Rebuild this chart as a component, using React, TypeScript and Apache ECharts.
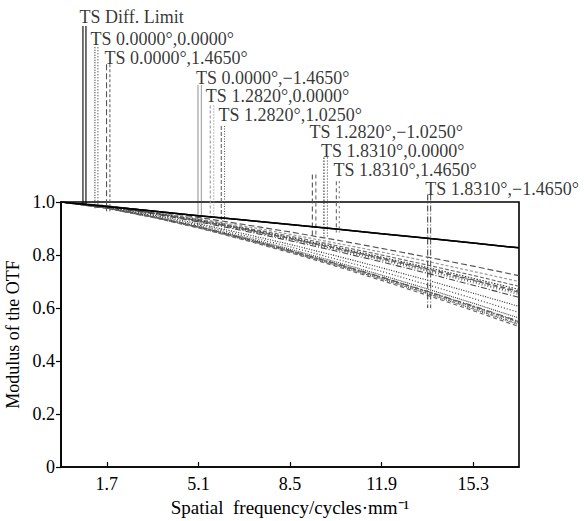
import React, { useEffect, useRef } from "react";
import * as echarts from "echarts";

// Spatial frequency sample points (cycles/mm)
const freq = [0, 1.7, 3.4, 5.1, 6.8, 8.5, 10.2, 11.9, 13.6, 15.3, 17];

const xTickValues = [1.7, 5.1, 8.5, 11.9, 15.3];

const fieldNames = [
  "TS Diff. Limit",
  "TS 0.0000°,0.0000°",
  "TS 0.0000°,1.4650°",
  "TS 0.0000°,\u22121.4650°",
  "TS 1.2820°,0.0000°",
  "TS 1.2820°,1.0250°",
  "TS 1.2820°,\u22121.0250°",
  "TS 1.8310°,0.0000°",
  "TS 1.8310°,1.4650°",
  "TS 1.8310°,\u22121.4650°",
];

// Tangential MTF per field
const mtfT = [
  [1, 0.983, 0.966, 0.948, 0.932, 0.915, 0.898, 0.88, 0.863, 0.845, 0.827],
  [1, 0.98, 0.952, 0.918, 0.88, 0.84, 0.797, 0.752, 0.705, 0.656, 0.606],
  [1, 0.986, 0.966, 0.942, 0.915, 0.887, 0.857, 0.825, 0.792, 0.758, 0.722],
  [1, 0.978, 0.946, 0.908, 0.867, 0.822, 0.774, 0.724, 0.672, 0.618, 0.562],
  [1, 0.985, 0.963, 0.937, 0.909, 0.878, 0.845, 0.811, 0.776, 0.738, 0.7],
  [1, 0.984, 0.961, 0.934, 0.903, 0.871, 0.836, 0.8, 0.762, 0.723, 0.682],
  [1, 0.983, 0.959, 0.93, 0.898, 0.863, 0.826, 0.788, 0.748, 0.706, 0.663],
  [1, 0.983, 0.959, 0.931, 0.9, 0.866, 0.83, 0.792, 0.753, 0.712, 0.67],
  [1, 0.983, 0.958, 0.929, 0.897, 0.862, 0.825, 0.786, 0.746, 0.704, 0.66],
  [1, 0.982, 0.956, 0.925, 0.891, 0.854, 0.815, 0.774, 0.731, 0.686, 0.64],
];

// Sagittal MTF per field
const mtfS = [
  [1, 0.983, 0.966, 0.948, 0.932, 0.915, 0.898, 0.88, 0.863, 0.845, 0.827],
  [1, 0.979, 0.949, 0.913, 0.873, 0.831, 0.785, 0.738, 0.688, 0.636, 0.583],
  [1, 0.977, 0.944, 0.906, 0.863, 0.816, 0.767, 0.716, 0.662, 0.606, 0.548],
  [1, 0.977, 0.943, 0.903, 0.859, 0.812, 0.762, 0.709, 0.654, 0.596, 0.537],
  [1, 0.982, 0.957, 0.927, 0.894, 0.858, 0.82, 0.78, 0.738, 0.695, 0.65],
  [1, 0.977, 0.944, 0.905, 0.862, 0.815, 0.766, 0.714, 0.66, 0.603, 0.545],
  [1, 0.976, 0.942, 0.902, 0.857, 0.809, 0.758, 0.704, 0.648, 0.59, 0.53],
  [1, 0.983, 0.958, 0.928, 0.895, 0.86, 0.822, 0.783, 0.742, 0.699, 0.655],
  [1, 0.977, 0.943, 0.904, 0.86, 0.813, 0.763, 0.711, 0.656, 0.599, 0.54],
  [1, 0.977, 0.945, 0.906, 0.863, 0.817, 0.768, 0.717, 0.663, 0.608, 0.55],
];

// Label marker lines (frequency of T and S marker, top and bottom modulus)
const markerXT = [0.815, 1.259, 1.69, 5.085, 5.54, 5.95, 9.33, 9.76, 10.22, 13.61];
const markerXS = [0.926, 1.37, 1.815, 5.21, 5.67, 6.07, 9.46, 9.89, 10.33, 13.72];
const markerTop = [1.664, 1.584, 1.52, 1.44, 1.364, 1.287, 1.104, 1.168, 1.078, 1.028];
const markerBottom = [0.99, 0.975, 0.965, 0.905, 0.9, 0.893, 0.866, 0.87, 0.885, 0.6];

// Label anchor (left, bottom of text)
const labelX = [0.704, 1.111, 1.63, 5.026, 5.396, 5.863, 9.24, 9.667, 10.13, 13.54];
const labelY = [1.671, 1.588, 1.518, 1.443, 1.373, 1.301, 1.236, 1.165, 1.096, 1.021];

const FONT = "'Liberation Serif', 'Times New Roman', serif";

type LS = { color: string; type: any; width: number };
const stylesT: LS[] = [
  { color: "#000", type: "solid", width: 1.5 },
  { color: "#222", type: [1, 1.5], width: 1.1 },
  { color: "#555", type: [6, 3], width: 1.2 },
  { color: "#333", type: [1, 1], width: 1.1 },
  { color: "#999", type: [3, 2], width: 1.2 },
  { color: "#666", type: [4, 2], width: 1.1 },
  { color: "#555", type: [5, 3], width: 1.2 },
  { color: "#333", type: [1.5, 1.5], width: 1.1 },
  { color: "#666", type: [4, 3], width: 1.2 },
  { color: "#444", type: [6, 2, 1, 2], width: 1.1 },
];
const stylesS: LS[] = [
  { color: "#000", type: "solid", width: 1.5 },
  { color: "#333", type: [1, 2], width: 1.1 },
  { color: "#666", type: [3, 2], width: 1.2 },
  { color: "#444", type: [1, 1], width: 1.1 },
  { color: "#888", type: [1, 2], width: 1.2 },
  { color: "#555", type: [1, 1.5], width: 1.1 },
  { color: "#666", type: [4, 3], width: 1.2 },
  { color: "#444", type: [1, 2], width: 1.1 },
  { color: "#777", type: [2, 3], width: 1.2 },
  { color: "#555", type: [6, 2, 1, 2], width: 1.1 },
];

export default function App() {
  const ref = useRef<HTMLDivElement>(null);

  useEffect(() => {
    if (!ref.current) return;
    const chart = echarts.init(ref.current, undefined, { renderer: "svg" });

    const series: any[] = [];
    fieldNames.forEach((name, i) => {
      series.push({
        type: "line",
        name: name + " T",
        data: freq.map((f, k) => [f, mtfT[i][k]]),
        symbol: "none",
        silent: true,
        lineStyle: { ...stylesT[i] },
        z: i === 0 ? 5 : 3,
      });
      series.push({
        type: "line",
        name: name + " S",
        data: freq.map((f, k) => [f, mtfS[i][k]]),
        symbol: "none",
        silent: true,
        lineStyle: { ...stylesS[i] },
        z: i === 0 ? 5 : 3,
      });
      series.push({
        type: "line",
        name: name + " markT",
        data: [
          [markerXT[i], markerTop[i]],
          [markerXT[i], markerBottom[i]],
        ],
        symbol: "none",
        silent: true,
        clip: false,
        lineStyle: { ...stylesT[i], width: 1.1 },
        z: 4,
      });
      series.push({
        type: "line",
        name: name + " markS",
        data: [
          [markerXS[i], markerTop[i]],
          [markerXS[i], markerBottom[i]],
        ],
        symbol: "none",
        silent: true,
        clip: false,
        lineStyle: { ...stylesS[i], width: 1.1 },
        z: 4,
      });
    });

    series.push({
      type: "scatter",
      name: "labels",
      clip: false,
      silent: true,
      symbol: "rect",
      symbolSize: [1, 1],
      itemStyle: { color: "rgba(0,0,0,0)" },
      data: labelX.map((x, i) => ({ value: [x, labelY[i]], name: fieldNames[i] })),
      label: {
        show: true,
        position: "insideBottomLeft",
        distance: 0,
        formatter: "{b}",
        color: "#000",
        fontFamily: FONT,
        fontSize: 18,
        lineHeight: 15,
      },
      z: 10,
    });

    chart.setOption({
      animation: false,
      backgroundColor: "#fff",
      grid: {
        left: 61,
        right: 65,
        top: 202,
        bottom: 54,
        containLabel: false,
        outerBoundsMode: "none",
        show: true,
        borderColor: "#000",
        borderWidth: 1.6,
        backgroundColor: "transparent",
      },
      xAxis: {
        type: "value",
        min: 0,
        max: 17,
        name: "Spatial  frequency/cycles·mm⁻¹",
        nameLocation: "middle",
        nameGap: 30,
        nameTextStyle: { fontFamily: FONT, fontSize: 19, color: "#000" },
        axisLine: { show: true, lineStyle: { color: "#000", width: 1.6 } },
        axisTick: {
          show: true,
          inside: true,
          length: 5,
          customValues: xTickValues,
          lineStyle: { color: "#000", width: 1.2 },
        },
        axisLabel: {
          show: true,
          customValues: xTickValues,
          margin: 8,
          fontFamily: FONT,
          fontSize: 18,
          color: "#000",
          formatter: (v: number) => v.toFixed(1),
        },
        splitLine: { show: false },
      },
      yAxis: {
        type: "value",
        min: 0,
        max: 1,
        interval: 0.2,
        name: "Modulus of the OTF",
        nameLocation: "middle",
        nameGap: 36,
        nameRotate: 90,
        nameTextStyle: { fontFamily: FONT, fontSize: 18, color: "#000" },
        axisLine: { show: true, lineStyle: { color: "#000", width: 1.6 } },
        axisTick: { show: true, inside: false, length: 5, lineStyle: { color: "#000", width: 1.2 } },
        axisLabel: {
          margin: 6,
          fontFamily: FONT,
          fontSize: 18,
          color: "#000",
          formatter: (v: number) => (Math.abs(v) < 1e-9 ? "0" : v.toFixed(1)),
        },
        splitLine: { show: false },
      },
      series,
    });

    return () => {
      chart.dispose();
    };
  }, []);

  return (
    <div
      ref={ref}
      style={{ position: "fixed", left: 0, top: 0, width: 584, height: 521, background: "#fff" }}
    />
  );
}
